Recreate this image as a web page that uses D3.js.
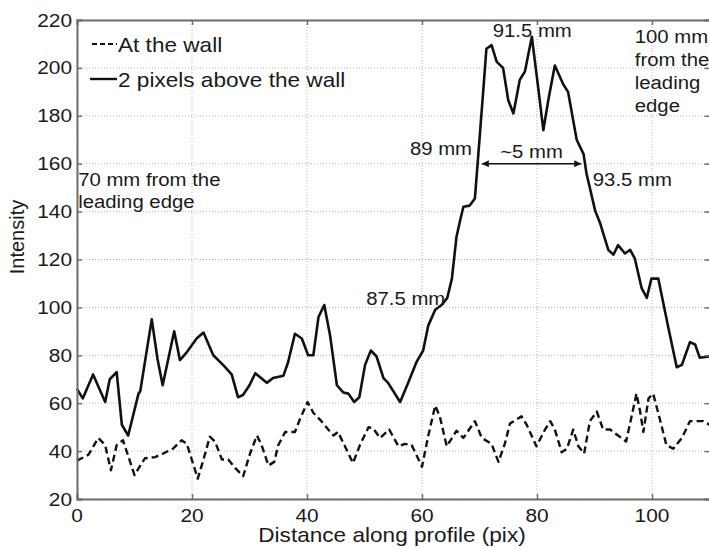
<!DOCTYPE html>
<html>
<head>
<meta charset="utf-8">
<script src="https://cdn.jsdelivr.net/npm/d3@7"></script>
<style>
  body { margin: 0; background: #fff; }
  text { font-family: "Liberation Sans", Arial, Helvetica, sans-serif; fill: #1a1a1a; }
</style>
</head>
<body>
<svg id="chart"></svg>
<script>
// intensity profile "at the wall" (dashed)
const wallX = [0, 2, 3.7, 4.9, 5.9, 6.9, 8, 10, 11.8, 13.6, 15, 16.7, 18.2, 19.1, 21, 22, 23.1, 24, 25.2, 26.3,
  27.5, 28.9, 30.1, 31.3, 32.1, 33.3, 34.3, 35, 36.2, 37.9, 38.8, 40.1, 41.1, 42.5, 43.7, 44.6, 45.4, 46.6, 48, 49.2,
  50.7, 51.5, 52.7, 54.3, 55.9, 57, 58.2, 60, 61.1, 62.3, 63.1, 64.3, 66, 67.2, 69.2, 70.4, 72.1, 73.3, 74.4, 75.3,
  77.3, 78.2, 79.9, 81.4, 82.3, 83.1, 84.3, 85.2, 86.3, 87.2, 88.2, 89.2, 90.4, 91.5, 92.7, 94.1, 95.5, 96.5, 97.3, 97.9,
  98.5, 99.4, 100.2, 101.4, 102.5, 103.7, 105.2, 106.6, 108.9, 110];
const wallY = [36, 38.5, 45.5, 42.5, 32, 42.5, 44.5, 30, 37, 37.5, 39, 41, 44.5, 43, 28.5, 36.5, 46, 44, 36.5, 36.5,
  33, 29.5, 39, 46.5, 42.5, 34, 35.5, 42.5, 48, 48, 53.5, 60.5, 56, 52.5, 49, 46.5, 48, 42, 35, 42.5,
  50, 49.5, 45.5, 49, 42, 43, 42.5, 33.5, 46.5, 59, 54.5, 42, 48.5, 45.5, 52.5, 45.5, 43, 35.5, 43, 51.5,
  54.5, 51, 42, 49, 52.5, 49, 39.5, 41, 49, 42, 39, 52.5, 56.5, 49, 49, 46.5, 44, 55, 64, 57,
  48, 62, 64, 53, 42.5, 41, 45.5, 52.5, 52.5, 51];

// intensity profile "2 pixels above the wall" (solid)
const aboveX = [0, 1, 2.8, 4.9, 5.7, 6.9, 7.8, 8.9, 10.7, 11, 13, 14, 14.9, 16.9, 17.9, 19, 20.8, 22, 23.7, 25.4,
  26.9, 28, 28.9, 30, 31, 33, 34.1, 35.9, 36.7, 37.9, 39.1, 40.2, 41.1, 42, 43, 44, 45.2, 46.3, 47.2, 48.2,
  49.1, 50.1, 51.1, 52.1, 53.3, 54.1, 56.2, 57.6, 59.1, 60.2, 61.1, 62.3, 63.4, 64.4, 65.2, 66, 66.6, 67.2, 68.3, 69.2,
  69.8, 70.7, 71.2, 72.1, 73, 74.1, 75, 75.9, 77, 77.9, 79.1, 80.2, 81.1, 82, 83.1, 84.6, 85.4, 86.9, 88.1, 88.6,
  90.1, 91, 92.4, 93.3, 94.1, 95.3, 96.2, 97, 98.2, 99.1, 99.9, 101.1, 102.8, 104.3, 105.2, 106.6, 107.5, 108.3, 110];
const aboveY = [66, 62, 72, 60.5, 70, 73, 51, 46.5, 64, 65, 95, 78.5, 67.5, 90, 78, 81, 87, 89.5, 80, 76,
  72, 62.5, 63.5, 67.5, 72.5, 68.5, 70.5, 71.5, 77, 89, 87, 80, 80, 96, 101, 88.5, 67.5, 64.5, 64, 60.5,
  62.5, 76, 82, 79.5, 70.5, 68.5, 60.5, 68.5, 77.5, 82, 92.5, 99, 101, 104, 112, 129.5, 136, 142, 142.5, 145.5,
  164, 192, 208, 209.5, 202.5, 200, 186.5, 181, 195, 198.5, 213, 192, 174, 187, 201, 193, 190, 170, 164, 156,
  140.5, 135, 124, 122, 126, 122.5, 124, 120.5, 108, 104, 112, 112, 92, 75, 76, 85.5, 84.5, 79, 79.5];

const xTicks = [0, 20, 40, 60, 80, 100];
const yTicks = [20, 40, 60, 80, 100, 120, 140, 160, 180, 200, 220];
const seriesNames = ['At the wall', '2 pixels above the wall'];

// annotations: [x, y, text] in data units
const notes = [
  [72.3, 212.9, '91.5 mm'],
  [97.0, 210.4, '100 mm'],
  [97.0, 200.8, 'from the'],
  [97.0, 191.2, 'leading'],
  [97.0, 181.6, 'edge'],
  [57.9, 163.6, '89 mm'],
  [73.6, 162.3, '~5 mm'],
  [89.7, 150.6, '93.5 mm'],
  [0.2, 150.7, '70 mm from the'],
  [0.2, 141.5, 'leading edge'],
  [50.3, 101, '87.5 mm']
];
const arrowSpan = [70.4, 87.7, 160];

const width = 709, height = 549;
const SX = 1.13; // text in the picture is a little wide

const svg = d3.select('#chart').attr('width', width).attr('height', height);

const x = d3.scaleLinear().domain([0, 110]).range([77, 709.5]);
const y = d3.scaleLinear().domain([20, 220]).range([499, 20]);

function label(sel, px, py, txt, size, anchor) {
  return sel.append('text')
    .attr('transform', `translate(${px},${py}) scale(${SX},1)`)
    .attr('text-anchor', anchor || 'start')
    .style('font-size', size + 'px')
    .text(txt);
}

// grid
const grid = svg.append('g').attr('stroke', '#b5b5b5').attr('stroke-width', 1).attr('stroke-dasharray', '1,2');
grid.selectAll('.gx').data(xTicks).enter().append('line')
  .attr('x1', d => x(d)).attr('x2', d => x(d)).attr('y1', y(20)).attr('y2', y(220));
grid.selectAll('.gy').data(yTicks).enter().append('line')
  .attr('y1', d => y(d)).attr('y2', d => y(d)).attr('x1', x(0)).attr('x2', x(110));

// series
const wallPts = wallX.map((v, i) => [v, wallY[i]]);
const abovePts = aboveX.map((v, i) => [v, aboveY[i]]);
const line = d3.line().x(d => x(d[0])).y(d => y(d[1]));

svg.append('path').datum(wallPts).attr('d', line)
  .attr('fill', 'none').attr('stroke', '#111').attr('stroke-width', 2.4)
  .attr('stroke-dasharray', '7,4').attr('stroke-linejoin', 'round');
svg.append('path').datum(abovePts).attr('d', line)
  .attr('fill', 'none').attr('stroke', '#111').attr('stroke-width', 2.6)
  .attr('stroke-linejoin', 'round');

// axes box with inward ticks
const axisColor = '#6e6e6e';
const axL = svg.append('g').attr('transform', `translate(${x(0)},0)`)
  .call(d3.axisLeft(y).tickValues(yTicks).tickSize(-5).tickFormat(''));
const axR = svg.append('g').attr('transform', `translate(${x(110)},0)`)
  .call(d3.axisRight(y).tickValues(yTicks).tickSize(-5).tickFormat(''));
const axB = svg.append('g').attr('transform', `translate(0,${y(20)})`)
  .call(d3.axisBottom(x).tickValues(xTicks).tickSize(-5).tickFormat(''));
const axT = svg.append('g').attr('transform', `translate(0,${y(220)})`)
  .call(d3.axisTop(x).tickValues(xTicks).tickSize(-5).tickFormat(''));
[axL, axR, axB, axT].forEach(a => {
  a.selectAll('path, line').attr('stroke', axisColor).attr('stroke-width', 1.5);
  a.select('.domain').attr('stroke-width', 2);
});

// tick labels
yTicks.forEach(t => label(svg, x(0) - 5, y(t) + 6.5, t, 18.5, 'end'));
xTicks.forEach(t => label(svg, x(t), 522, t, 18.5, 'middle'));

// axis titles
label(svg, 392, 542, 'Distance along profile (pix)', 20, 'middle');
svg.append('text')
  .attr('transform', 'translate(24,237) rotate(-90)')
  .attr('text-anchor', 'middle').style('font-size', '20px')
  .text('Intensity');

// legend
const leg = svg.append('g');
leg.append('line').attr('x1', 92).attr('x2', 117).attr('y1', 44).attr('y2', 44)
  .attr('stroke', '#111').attr('stroke-width', 2.2).attr('stroke-dasharray', '5,3');
label(leg, 118, 52, seriesNames[0], 20, 'start');
leg.append('line').attr('x1', 90).attr('x2', 117).attr('y1', 79).attr('y2', 79)
  .attr('stroke', '#111').attr('stroke-width', 2.4);
label(leg, 118, 87, seriesNames[1], 20, 'start');

// annotations
notes.forEach(n => label(svg, x(n[0]), y(n[1]), n[2], 18, 'start'));

// double arrow
const defs = svg.append('defs');
['a-end', 'a-start'].forEach((id, i) => {
  defs.append('marker').attr('id', id).attr('viewBox', '0 0 10 10')
    .attr('refX', 10).attr('refY', 5).attr('markerWidth', 9).attr('markerHeight', 7)
    .attr('markerUnits', 'userSpaceOnUse')
    .attr('orient', i === 0 ? 'auto' : 'auto-start-reverse')
    .append('path').attr('d', 'M0,0L10,5L0,10Z').attr('fill', '#111');
});
svg.append('line')
  .attr('x1', x(arrowSpan[0])).attr('x2', x(arrowSpan[1]))
  .attr('y1', y(arrowSpan[2])).attr('y2', y(arrowSpan[2]))
  .attr('stroke', '#111').attr('stroke-width', 1.5)
  .attr('marker-end', 'url(#a-end)').attr('marker-start', 'url(#a-start)');
</script>
</body>
</html>
